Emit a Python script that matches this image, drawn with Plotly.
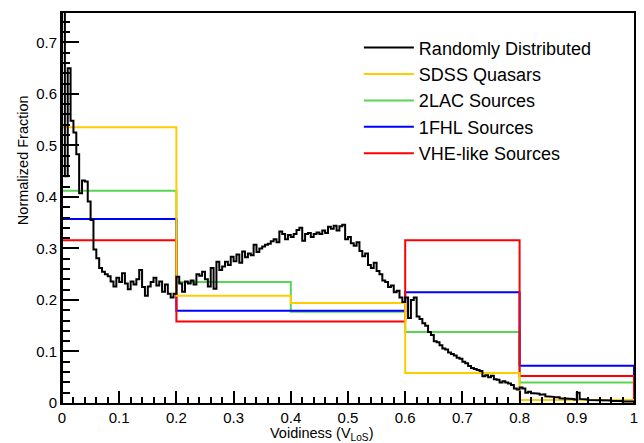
import plotly.graph_objects as go

# ---------------- data ----------------
random_bin_width = 0.005
random_values = [
    0.780, 0.440, 0.650, 0.548, 0.525, 0.483, 0.407, 0.432, 0.430, 0.391,
    0.355, 0.298, 0.281, 0.262, 0.255, 0.250, 0.246, 0.236, 0.226, 0.243,
    0.235, 0.252, 0.232, 0.221, 0.236, 0.230, 0.240, 0.258, 0.225, 0.208,
    0.226, 0.235, 0.243, 0.228, 0.236, 0.216, 0.230, 0.212, 0.205, 0.212,
    0.245, 0.232, 0.216, 0.236, 0.232, 0.238, 0.230, 0.250, 0.247, 0.255,
    0.240, 0.226, 0.262, 0.222, 0.274, 0.258, 0.265, 0.274, 0.268, 0.284,
    0.275, 0.288, 0.272, 0.294, 0.283, 0.290, 0.287, 0.307, 0.293, 0.300,
    0.304, 0.307, 0.309, 0.314, 0.318, 0.312, 0.333, 0.328, 0.318, 0.326,
    0.322, 0.328, 0.336, 0.340, 0.315, 0.328, 0.330, 0.322, 0.328, 0.331,
    0.328, 0.335, 0.330, 0.342, 0.338, 0.344, 0.335, 0.343, 0.346, 0.318,
    0.322, 0.310, 0.305, 0.312, 0.295, 0.285, 0.290, 0.268, 0.262, 0.272,
    0.256, 0.250, 0.238, 0.235, 0.225, 0.228, 0.215, 0.218, 0.205, 0.196,
    0.205, 0.165, 0.200, 0.205, 0.168, 0.163, 0.155, 0.150, 0.138, 0.132,
    0.120, 0.118, 0.112, 0.106, 0.104, 0.098, 0.095, 0.092, 0.088, 0.086,
    0.080, 0.077, 0.072, 0.068, 0.066, 0.064, 0.062, 0.052, 0.054, 0.050,
    0.053, 0.046, 0.045, 0.040, 0.042, 0.040, 0.038, 0.035, 0.028, 0.026,
    0.030, 0.028, 0.020, 0.022, 0.019, 0.019, 0.018, 0.016, 0.017, 0.013,
    0.012, 0.012, 0.011, 0.011, 0.009, 0.009, 0.009, 0.008, 0.008, 0.007,
    0.020, 0.008, 0.007, 0.007, 0.006, 0.006, 0.005, 0.006, 0.005, 0.005,
    0.006, 0.005, 0.004, 0.004, 0.005, 0.004, 0.003, 0.004, 0.003, 0.003,
]

coarse_edges = [0.0, 0.2, 0.4, 0.6, 0.8, 1.0]
sdss_values = [0.535, 0.208, 0.194, 0.058, 0.006]
lac2_values = [0.412, 0.235, 0.177, 0.138, 0.040]
fhl1_values = [0.357, 0.179, 0.179, 0.215, 0.0725]
vhe_values = [0.3158, 0.158, 0.158, 0.3158, 0.0526]

x_ticks = [0, 0.1, 0.2, 0.3, 0.4, 0.5, 0.6, 0.7, 0.8, 0.9, 1]
y_ticks = [0, 0.1, 0.2, 0.3, 0.4, 0.5, 0.6, 0.7]


def step_xy(edges, values):
    xs, ys = [edges[0]], [0.0]
    for i, v in enumerate(values):
        xs += [edges[i], edges[i + 1]]
        ys += [v, v]
    xs.append(edges[-1])
    ys.append(0.0)
    return xs, ys


random_edges = [i * random_bin_width for i in range(len(random_values) + 1)]

series = [
    # name, edges, values, colour, legend rank
    ("2LAC Sources", coarse_edges, lac2_values, "#59d454", 3),
    ("1FHL Sources", coarse_edges, fhl1_values, "#0000ff", 4),
    ("VHE-like Sources", coarse_edges, vhe_values, "#ff0000", 5),
    ("SDSS Quasars", coarse_edges, sdss_values, "#ffcc00", 2),
    ("Randomly Distributed", random_edges, random_values, "#000000", 1),
]

fig = go.Figure()
for name, edges, vals, col, rank in series:
    xs, ys = step_xy(edges, vals)
    fig.add_trace(go.Scatter(
        x=xs, y=ys, mode="lines", name=name,
        line=dict(color=col, width=2), legendrank=rank,
    ))

font_family = "Liberation Sans, Arial, sans-serif"

fig.update_layout(
    width=644, height=443,
    margin=dict(l=62, r=10, t=13, b=40, autoexpand=False),
    plot_bgcolor="white", paper_bgcolor="white",
    font=dict(family=font_family, size=15, color="black"),
    showlegend=True,
    legend=dict(
        x=0.519, y=0.958, xanchor="left", yanchor="top",
        font=dict(size=18, family=font_family, color="black"),
        bgcolor="rgba(0,0,0,0)", borderwidth=0,
        itemwidth=50, tracegroupgap=0,
    ),
    xaxis=dict(
        range=[0, 1], tickvals=x_ticks, ticks="inside", ticklen=12,
        tickwidth=1.5, tickcolor="black",
        showline=True, linewidth=2, linecolor="black", mirror=True,
        showgrid=False, zeroline=False,
        tickfont=dict(size=15),
        minor=dict(dtick=0.02, tick0=0, ticks="inside", ticklen=6,
                   tickwidth=1.5, tickcolor="black", showgrid=False),
    ),
    yaxis=dict(
        range=[0, 0.757], tickvals=y_ticks, ticks="inside", ticklen=17,
        tickwidth=1.5, tickcolor="black",
        showline=True, linewidth=2, linecolor="black", mirror=True,
        showgrid=False, zeroline=False,
        tickfont=dict(size=15),
        minor=dict(dtick=0.02, tick0=0, ticks="inside", ticklen=8,
                   tickwidth=1.5, tickcolor="black", showgrid=False),
    ),
    annotations=[
        dict(text="Voidiness (V<sub>LoS</sub>)", xref="paper", yref="paper",
             x=0.453, y=-0.079, xanchor="center", yanchor="middle",
             showarrow=False, font=dict(size=14.5)),
        dict(text="Normalized Fraction", xref="paper", yref="paper",
             x=-0.068, y=0.623, xanchor="center", yanchor="middle",
             textangle=-90, showarrow=False, font=dict(size=14.5)),
    ],
)

fig.write_html(
    "out.html",
    config={"displayModeBar": False},
    post_script="document.body.style.margin='0';document.body.style.padding='0';",
)
